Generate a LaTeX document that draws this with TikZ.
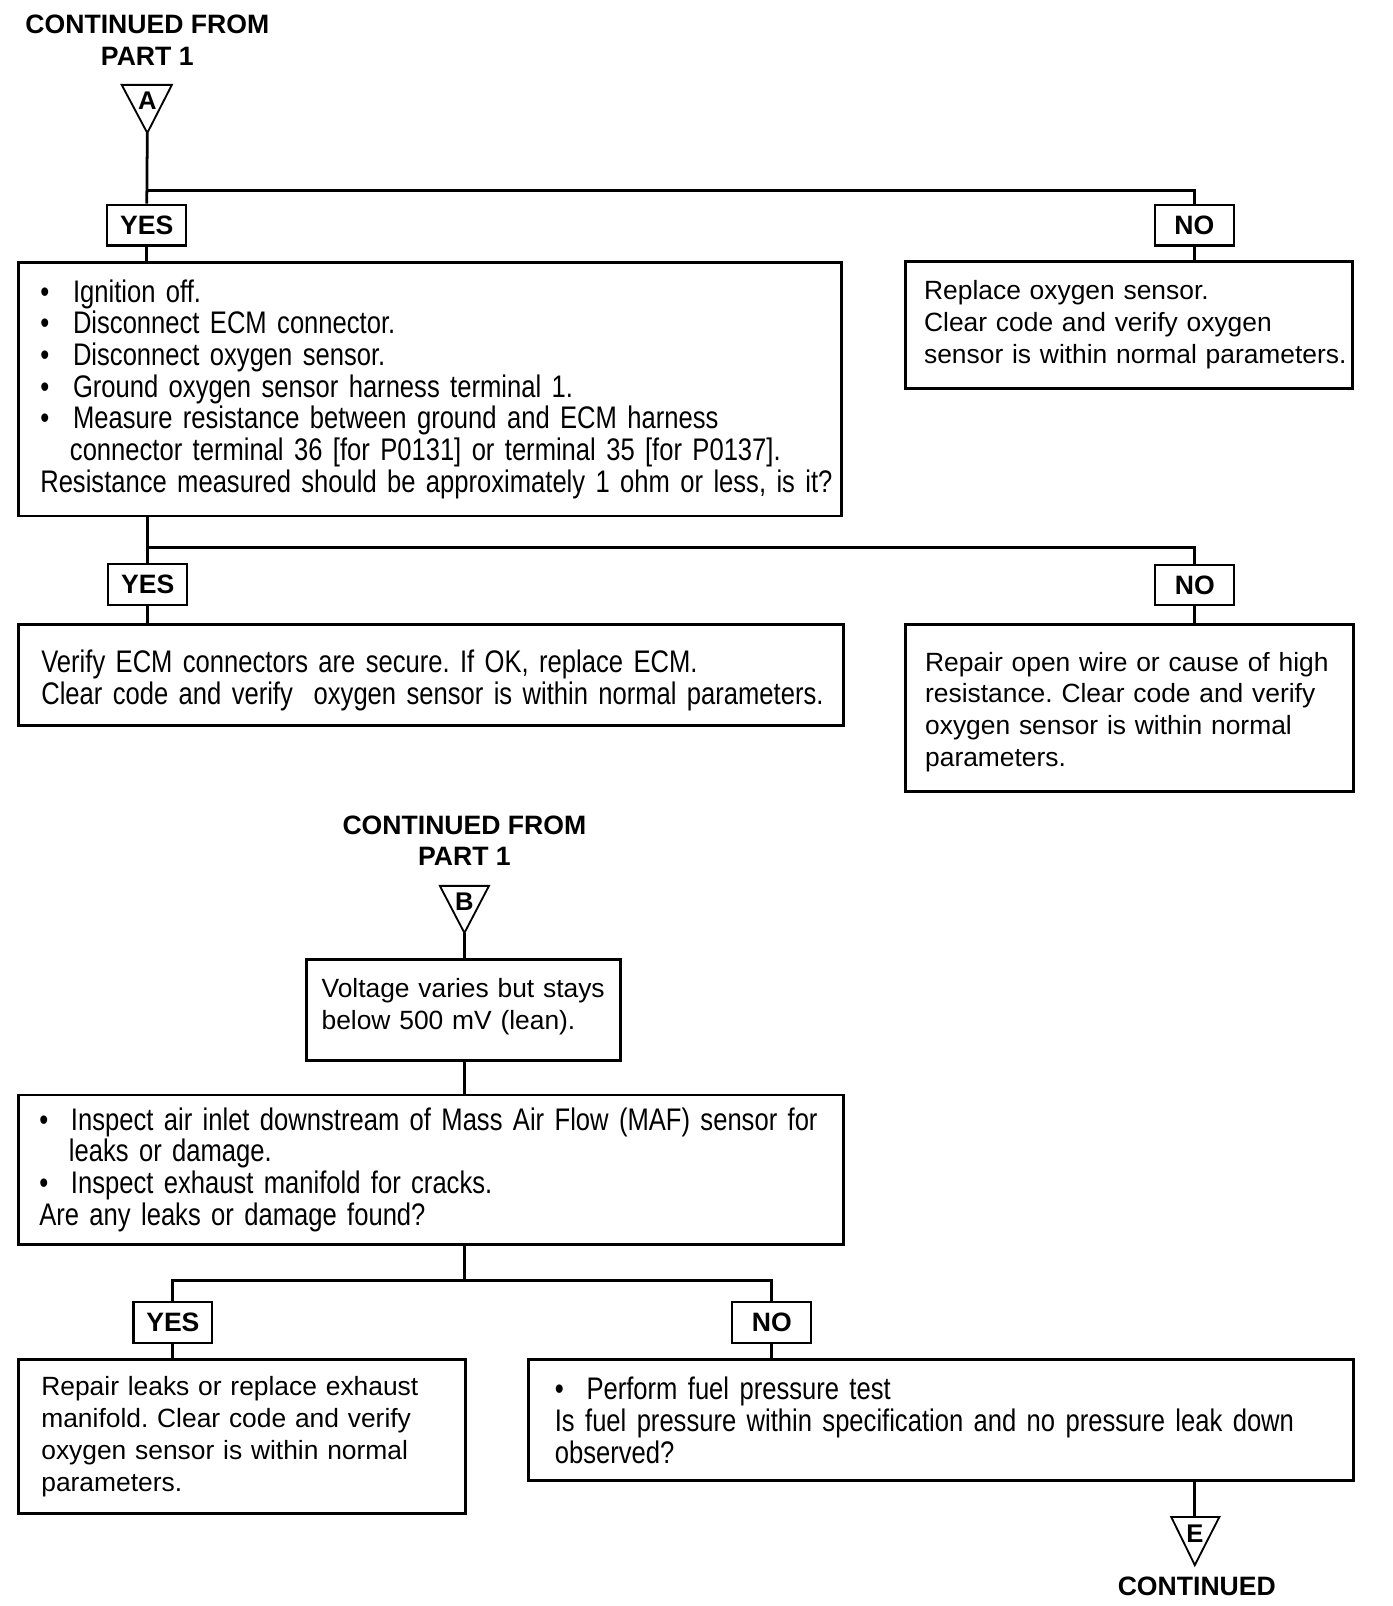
\documentclass[tikz,border=0pt]{standalone}
\usepackage{fontspec}
\setmainfont{Liberation Sans}
\newfontfamily\narrowfont[FakeStretch=0.82]{Liberation Sans}
\newcommand\bulitem{\makebox[32pt][l]{•}}
\frenchspacing
\begin{document}
\begin{tikzpicture}[x=1pt,y=-1pt,
  box/.style={draw, line width=2.8pt, anchor=north west, inner ysep=2pt, align=left},
  lbl/.style={draw, line width=2pt, font=\bfseries\fontsize{26}{30}\selectfont, minimum width=77pt, minimum height=40pt, inner sep=0pt},
  conn/.style={line width=2.7pt},
  tri/.style={line width=1.8pt, line join=miter},
  ttl/.style={font=\bfseries\fontsize{26}{31}\selectfont, align=center, inner sep=0pt},
  letter/.style={font=\bfseries\fontsize{25}{28}\selectfont, inner sep=0pt},
  reg/.style={font=\fontsize{25.8}{31}\selectfont},
  nar/.style={font=\narrowfont\fontsize{30.5}{31}\selectfont}
]
\useasboundingbox[fill=white] (0,0) rectangle (1361,1570);

% ---- Part A ----
\node[ttl] (t1) at (144,39.5) {CONTINUED FROM\\PART 1};
\coordinate (Aapex) at (144,130);
\draw[tri] (119,83) -- (168,83) -- (Aapex) -- cycle;
\node[letter] (lA) at (144,98.5) {A};

\node[lbl] (yes1) at (143.5,220) {YES};
\node[lbl] (no1) at (1167.5,220) {NO};
\coordinate (j1) at (144,186);

\node[box, nar, inner xsep=21pt, text width=762pt, minimum height=248pt] (b1) at (17,255) {%
\mbox{\bulitem Ignition off.}\\
\mbox{\bulitem Disconnect ECM connector.}\\
\mbox{\bulitem Disconnect oxygen sensor.}\\
\mbox{\bulitem Ground oxygen sensor harness terminal 1.}\\
\mbox{\bulitem Measure resistance between ground and ECM harness}\\
\mbox{\hspace*{29pt}connector terminal 36 [for P0131] or terminal 35 [for P0137].}\\
\mbox{Resistance measured should be approximately 1 ohm or less, is it?}};

\node[box, reg, inner xsep=18pt, text width=401pt, minimum height=124pt] (bno1) at (884,254) {%
\mbox{Replace oxygen sensor.}\\
\mbox{Clear code and verify oxygen}\\
\mbox{sensor is within normal parameters.}};

\draw[conn] (Aapex) -- (yes1.north);
\draw[conn] (j1) -| (no1.north);
\draw[conn] (yes1.south) -- (yes1.south |- b1.north);
\draw[conn] (no1.south) -- (no1.south |- bno1.north);

\node[lbl] (yes2) at (144.5,571.5) {YES};
\node[lbl, minimum height=39pt] (no2) at (1168,572) {NO};
\coordinate (j2) at (144,535);

\node[box, nar, inner xsep=22pt, text width=762pt, minimum height=99pt] (b2) at (17,609) {%
\mbox{\rule{0pt}{32.5pt}Verify ECM connectors are secure. If OK, replace ECM.}\\
\mbox{Clear code and verify\ \ oxygen sensor is within normal parameters.}};

\node[box, reg, inner xsep=19pt, text width=400pt, minimum height=163pt] (bno2) at (884,609) {%
\mbox{\rule{0pt}{27pt}Repair open wire or cause of high}\\
\mbox{resistance. Clear code and verify}\\
\mbox{oxygen sensor is within normal}\\
\mbox{parameters.}};

\draw[conn] (b1.south -| yes2.north) -- (yes2.north);
\draw[conn] (j2) -| (no2.north);
\draw[conn] (yes2.south) -- (yes2.south |- b2.north);
\draw[conn] (no2.south) -- (no2.south |- bno2.north);

% ---- Part B ----
\node[ttl] (t2) at (454,822) {CONTINUED FROM\\PART 1};
\coordinate (Bapex) at (454,912);
\draw[tri] (430,866) -- (478,866) -- (Bapex) -- cycle;
\node[letter] (lB) at (454,881.5) {B};

\node[box, reg, inner xsep=15pt, text width=277pt, minimum height=98pt] (bv) at (298,937) {%
\mbox{Voltage varies but stays}\\
\mbox{below 500 mV (lean).\rule[-11.5pt]{0pt}{1pt}}};

\node[box, nar, inner xsep=20pt, text width=766pt, minimum height=146pt] (b3) at (17,1069) {%
\mbox{\makebox[31pt][l]{•}Inspect air inlet downstream of Mass Air Flow (MAF) sensor for}\\
\mbox{\hspace*{29pt}leaks or damage.}\\
\mbox{\makebox[31pt][l]{•}Inspect exhaust manifold for cracks.}\\
\mbox{Are any leaks or damage found?}};

\draw[conn] (Bapex) -- (Bapex |- bv.north);
\draw[conn] (bv.south -| Bapex) -- (Bapex |- b3.north);

\node[lbl] (yes3) at (169,1293) {YES};
\node[lbl] (no3) at (754.5,1293) {NO};
\coordinate (j3) at (454,1252);

\node[box, reg, inner xsep=22pt, text width=393pt, minimum height=150pt] (by3) at (17,1328) {%
\mbox{Repair leaks or replace exhaust}\\
\mbox{manifold. Clear code and verify}\\
\mbox{oxygen sensor is within normal}\\
\mbox{parameters.}};

\node[box, nar, inner xsep=26pt, text width=755pt, minimum height=118pt] (bn3) at (515,1328) {%
\mbox{\makebox[31pt][l]{•}Perform fuel pressure test}\\
\mbox{Is fuel pressure within specification and no pressure leak down}\\
\mbox{observed?}};

\draw[conn] (b3.south -| j3) -- (j3);
\draw[conn] (yes3.north) |- (j3);
\draw[conn] (no3.north) |- (j3);
\draw[conn] (yes3.south) -- (yes3.south |- by3.north);
\draw[conn] (no3.south) -- (no3.south |- bn3.north);

\coordinate (Etop) at (1168,1483);
\coordinate (Eapex) at (1168,1530);
\draw[tri] (1145,1483) -- (1192,1483) -- (Eapex) -- cycle;
\node[letter] (lE) at (1168,1499) {E};
\draw[conn] (bn3.south -| Etop) -- (Etop);
\node[ttl] (t3) at (1170,1551) {CONTINUED};
\end{tikzpicture}
\end{document}
